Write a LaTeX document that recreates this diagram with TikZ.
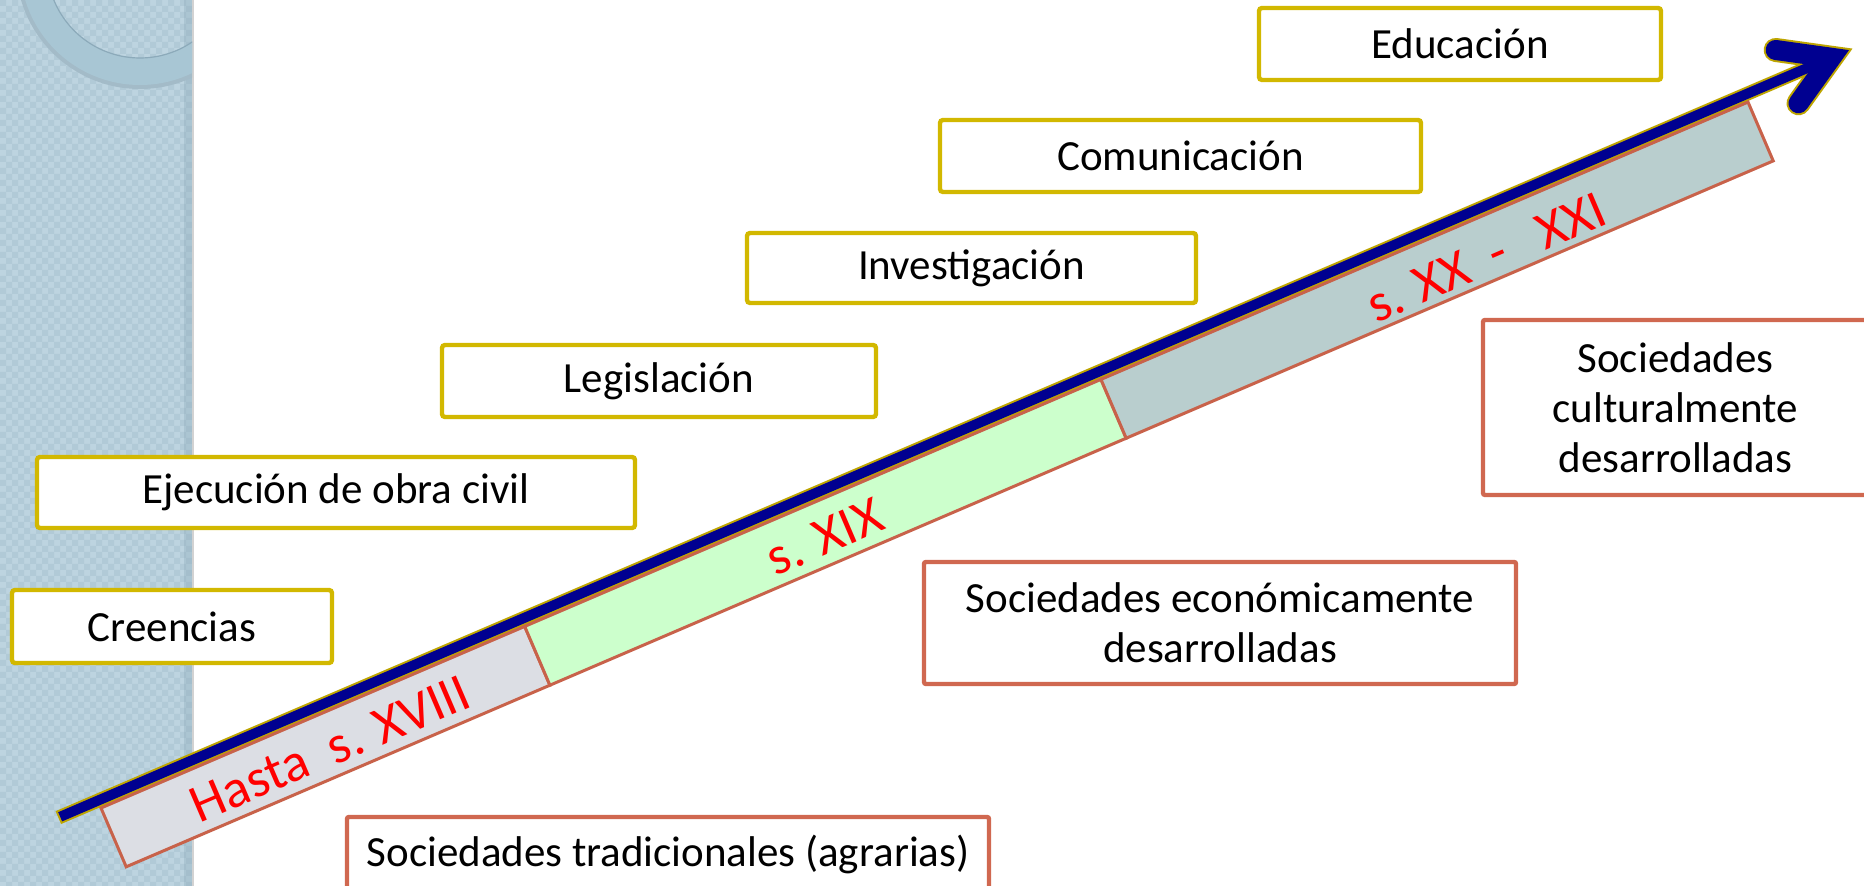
\documentclass[tikz,border=0pt]{standalone}
\usepackage{fontspec}
\setmainfont{Carlito}
\usetikzlibrary{calc}
\definecolor{gold}{RGB}{210,184,0}
\definecolor{terra}{RGB}{208,104,80}
\definecolor{bandbd}{RGB}{200,98,74}
\definecolor{seg1}{RGB}{220,222,228}
\definecolor{seg2}{RGB}{204,255,204}
\definecolor{seg3}{RGB}{185,206,206}
\definecolor{navy}{RGB}{0,0,144}
\definecolor{arrowol}{RGB}{190,165,0}
\definecolor{strip}{RGB}{189,212,224}
\definecolor{stripsq}{RGB}{177,202,215}
\definecolor{ring}{RGB}{168,198,212}
\definecolor{ringedge}{RGB}{140,170,186}
\newcommand\boxfont{\fontsize{21.5}{25}\selectfont}
\newcommand\bandfont{\fontsize{27}{30}\selectfont}
\tikzset{
  goldbox/.style={draw=gold, line width=2.2pt, rounded corners=1.5pt, fill=white, inner sep=0pt, font=\boxfont, align=center},
  redbox/.style={draw=terra, line width=2.2pt, rounded corners=1pt, fill=white, inner sep=0pt, font=\boxfont, align=center},
  segbox/.style={draw=bandbd, line width=1.5pt, line join=miter},
  bandtext/.style={text=red, font=\bandfont, rotate=23.2, inner sep=0pt},
}
\begin{document}
\begin{tikzpicture}[x=0.5pt, y=-0.5pt]
\useasboundingbox (0,0) rectangle (1864,886);
\fill[white] (0,0) rectangle (1864,886);
% left strip
\fill[strip] (0,0) rectangle (192,886);
\foreach \i in {0,...,15}{\foreach \j in {0,...,73}{
  \fill[stripsq] ({\i*12},{\j*12}) rectangle ++(6,6) ({\i*12+6},{\j*12+6}) rectangle ++(6,6);
}}
\fill[ringedge, opacity=0.35] (184,0) rectangle (192,886);
\draw[gray!35, line width=0.8pt] (193,0) -- (193,886);
% ring decoration
\begin{scope}
  \clip (0,0) rectangle (192,886);
  \fill[ringedge!80, even odd rule] (140,-35) circle (62pt) (140,-35) circle (46.5pt);
  \fill[ring, even odd rule] (140,-35) circle (60pt) (140,-35) circle (46.5pt);
  \draw[ringedge, line width=0.6pt] (140,-35) circle (46.5pt);
\end{scope}
% arrow and band
\begin{scope}[shift={(101,808)}, rotate=23.2]
  \coordinate (tail) at (-43,-8);
  \coordinate (tailin) at (-41,-8);
  \coordinate (shaftend) at (1880,-8);
  \coordinate (b1) at (1838,-37);
  \coordinate (hv) at (1886,-8);
  \coordinate (b2) at (1838,21);
  \draw[arrowol, line width=7pt] (tail) -- (shaftend);
  \draw[arrowol, line width=12pt, line cap=round, line join=miter, miter limit=10] (b1) -- (hv) -- (b2);
  \draw[navy, line width=5pt] (tailin) -- (shaftend);
  \draw[navy, line width=10pt, line cap=round, line join=miter, miter limit=10] (b1) -- (hv) -- (b2);
  \draw[segbox, fill=seg1] (0,0) -- (461,0) -- (461,64) -- (0,64) -- cycle;
  \draw[segbox, fill=seg2] (461,0) -- (1088,0) -- (1088,64) -- (461,64) -- cycle;
  \draw[segbox, fill=seg3] (1088,0) -- (1792,0) -- (1792,64) -- (1088,64) -- cycle;
  \node[bandtext] (t1) at (234,36) {Hasta\ \ s. XVIII};
  \node[bandtext] (t2) at (772,36) {s. XIX};
  \node[bandtext] (t3) at (1490,40) {s. XX\ \ -\ \ \ XXI};
\end{scope}
% boxes
\node[goldbox, minimum width=201pt, minimum height=36pt] (edu) at (1460,44) {Educación};
\node[goldbox, minimum width=240.5pt, minimum height=36pt] (com) at (1180.5,156) {Comunicación};
\node[goldbox, minimum width=224.5pt, minimum height=35pt] (inv) at (971.5,268) {Investigación};
\node[goldbox, minimum width=217pt, minimum height=36pt] (leg) at (659,381) {Legislación};
\node[goldbox, minimum width=299pt, minimum height=35.5pt] (eje) at (336,492.5) {Ejecución de obra civil};
\node[goldbox, minimum width=160pt, minimum height=36.5pt] (cre) at (172,626.5) {Creencias};
\node[redbox, minimum width=321pt, minimum height=37pt] (trad) at (668,854) {Sociedades tradicionales (agrarias)};
\node[redbox, minimum width=296pt, minimum height=61pt] (eco) at (1220,623) {Sociedades económicamente\\desarrolladas};
\node[redbox, minimum width=192.5pt, minimum height=87.5pt] (cul) at (1675.5,407.5) {Sociedades\\culturalmente\\desarrolladas};
\end{tikzpicture}
\end{document}
